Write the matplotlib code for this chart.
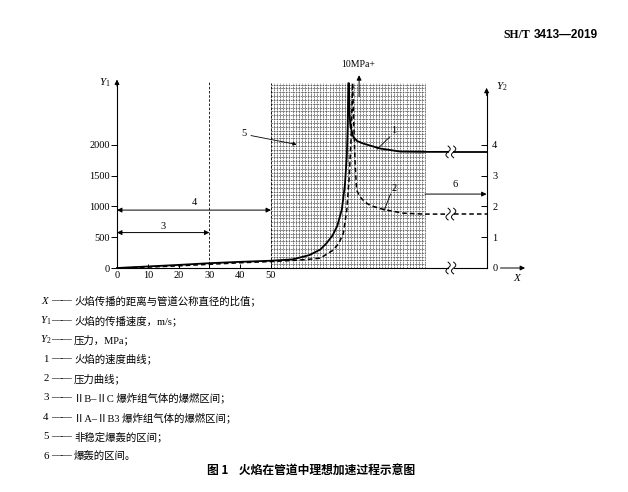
import numpy as np
import matplotlib
matplotlib.use('Agg')
import matplotlib.pyplot as plt

plt.rcParams['font.family'] = ['Liberation Serif', 'Noto Sans CJK SC']
plt.rcParams['mathtext.fontset'] = 'custom'
plt.rcParams['mathtext.rm'] = 'Liberation Serif'
plt.rcParams['mathtext.it'] = 'Liberation Serif:italic'

# 火焰速度曲线 (m/s)
vel_x = [0, 10, 20, 30, 40, 50, 57, 62.5, 66, 68, 70, 71.5, 73, 74, 74.6, 74.9, 75.1, 75.3,
         75.5, 75.8, 76.7, 78, 80, 85.4, 92, 100, 120]
vel_y = [0, 25, 50, 78, 100, 118, 140, 210, 300, 400, 530, 680, 950, 1350, 1800, 2300, 3000, 3000,
         2500, 2300, 2130, 2060, 2020, 1940, 1890, 1885, 1885]
# 压力曲线 (MPa)
pres_x = [0, 10, 20, 30, 40, 50, 58, 63, 66, 70.2, 72, 73.5, 74.6, 75.4, 76.0, 76.5, 76.9, 77.3,
          77.8, 78.9, 80.5, 82.1, 85, 87.6, 92.9, 100, 120]
pres_y = [0, 0.03, 0.07, 0.12, 0.17, 0.21, 0.25, 0.29, 0.32, 0.58, 0.8, 1.13, 1.88, 2.96, 4.2, 6.0,
          4.6, 3.4, 2.53, 2.31, 2.14, 2.04, 1.94, 1.88, 1.78, 1.75, 1.75]

x_ticks = [0, 10, 20, 30, 40, 50]
y1_ticks = [0, 500, 1000, 1500, 2000]
y2_ticks = [0, 1, 2, 3, 4]

zone_unstable = (50, 100)   # 5
zone_3 = (0, 30, 575)       # 3
zone_4 = (0, 50, 940)       # 4
zone_6 = (100, 120, 1200)   # 6
brk = (107.5, 109.3)

legend_sym = ['$X$', '$Y_1$', '$Y_2$', '1', '2', '3', '4', '5', '6']
legend_txt = ['火焰传播的距离与管道公称直径的比值；',
              '火焰的传播速度，m/s；',
              '压力，MPa；',
              '火焰的速度曲线；',
              '压力曲线；',
              'ⅡB–ⅡC 爆炸组气体的爆燃区间；',
              'ⅡA–ⅡB3 爆炸组气体的爆燃区间；',
              '非稳定爆轰的区间；',
              '爆轰的区间。']

W, H = 628, 492
def px(x, y):
    return x / W, 1 - y / H

fig = plt.figure(figsize=(W / 100, H / 100), dpi=100, facecolor='white')
ax = fig.add_axes([117 / W, 224 / H, 369.6 / W, 184.8 / H])
ax.set_xlim(0, 120)
ax.set_ylim(0, 3000)
for s in ['top', 'right', 'bottom']:
    ax.spines[s].set_visible(False)
ax.spines['left'].set_linewidth(0.8)
ax.set_xticks(x_ticks)
ax.set_yticks(y1_ticks)
ax.tick_params(axis='x', direction='in', length=3, width=0.7, labelsize=7.5, pad=2)
ax.tick_params(axis='y', direction='out', length=4, width=0.7, labelsize=7.5, pad=1)

ax2 = ax.twinx()
ax2.set_ylim(0, 6)
for s in ['top', 'left', 'bottom']:
    ax2.spines[s].set_visible(False)
ax2.spines['right'].set_bounds(0, 5.7)
ax2.spines['right'].set_linewidth(0.8)
ax2.set_yticks(y2_ticks)
ax2.tick_params(axis='y', direction='in', length=4, width=0.7, labelsize=7.5, pad=4)

# 非稳定爆轰区间的网格
gx = np.arange(zone_unstable[0], zone_unstable[1] + 0.1, 1.0)
gy = np.arange(0, 3001, 62)
ax.vlines(gx, 0, 3000, colors='0.3', linestyles=(0, (2.5, 1)), lw=0.5, zorder=1)
ax.hlines(gy, zone_unstable[0], zone_unstable[1], colors='0.3', linestyles=(0, (2.5, 1)), lw=0.5, zorder=1)
ax.vlines([zone_unstable[0]], 0, 3000, colors='k', linestyles=(0, (3, 2)), lw=0.6, zorder=2)
ax.vlines([zone_3[1]], 0, 3020, colors='k', linestyles=(0, (3, 2)), lw=0.6, clip_on=False)

def split(xs, ys):
    xs = np.array(xs, float); ys = np.array(ys, float)
    yl = np.interp(brk[0], xs, ys); yr = np.interp(brk[1], xs, ys)
    m1 = xs < brk[0]; m2 = xs > brk[1]
    return (np.append(xs[m1], brk[0]), np.append(ys[m1], yl)), (np.insert(xs[m2], 0, brk[1]), np.insert(ys[m2], 0, yr))

def squiggle(a, y, h):
    t = np.linspace(-1, 1, 40)
    for xc in brk:
        a.plot(xc + 0.7 * np.sin(np.pi * t), y + h * t, color='k', lw=0.7, clip_on=False, zorder=5)

for seg in split(vel_x, vel_y):
    ax.plot(*seg, color='k', lw=1.3, zorder=4, clip_on=False)
for seg in split(pres_x, pres_y):
    ax2.plot(*seg, color='k', lw=1.1, linestyle=(0, (3, 2)), zorder=4, clip_on=False)
for seg in split([0, 120], [0, 0]):
    ax.plot(*seg, color='k', lw=0.8, clip_on=False, zorder=4)
squiggle(ax, 0, 95)
squiggle(ax, vel_y[-1], 95)
squiggle(ax2, pres_y[-1], 0.19)

ap = dict(lw=0.7, color='k', mutation_scale=7, shrinkA=0, shrinkB=0)
# 轴箭头
ax.annotate('', xy=(0, 3060), xytext=(0, 2950), arrowprops=dict(arrowstyle='-|>', **ap), annotation_clip=False)
ax2.annotate('', xy=(120, 5.85), xytext=(120, 5.6), arrowprops=dict(arrowstyle='-|>', **ap), annotation_clip=False)
ax.annotate('', xy=(132.5, 0), xytext=(124.5, 0), arrowprops=dict(arrowstyle='-|>', **ap), annotation_clip=False)
ax.text(-2.2, 3010, '$Y_1$', fontsize=8, ha='right', va='center')
ax.text(123, 2940, '$Y_2$', fontsize=8, ha='left', va='center')
ax.text(130, -150, '$X$', fontsize=8, ha='center', va='center')

# 区间箭头
ax.annotate('', xy=(zone_3[1], zone_3[2]), xytext=(zone_3[0], zone_3[2]), arrowprops=dict(arrowstyle='<|-|>', **ap))
ax.text(14.8, 680, '3', fontsize=7.5, ha='center', va='center')
ax.annotate('', xy=(zone_4[1], zone_4[2]), xytext=(zone_4[0], zone_4[2]), arrowprops=dict(arrowstyle='<|-|>', **ap))
ax.text(25, 1065, '4', fontsize=7.5, ha='center', va='center')
ax.annotate('', xy=(zone_6[1], zone_6[2]), xytext=(zone_6[0], zone_6[2]), arrowprops=dict(arrowstyle='-|>', **ap))
ax.text(109.7, 1350, '6', fontsize=7.5, ha='center', va='center')

# 引出线
ax.text(41.2, 2190, '5', fontsize=7.5, ha='center', va='center')
ax.annotate('', xy=(58.3, 2005), xytext=(43.5, 2150),
            arrowprops=dict(arrowstyle='-|>', lw=0.6, color='k', mutation_scale=5, shrinkA=0, shrinkB=0))
ax.text(89.8, 2225, '1', fontsize=7.5, ha='center', va='center')
ax.plot([88.6, 84.5], [2130, 1930], color='k', lw=0.6)
ax.text(89.9, 1295, '2', fontsize=7.5, ha='center', va='center')
ax.plot([88.8, 86.7], [1200, 930], color='k', lw=0.6)
ax.annotate('', xy=(78.6, 3130), xytext=(78.6, 2780),
            arrowprops=dict(arrowstyle='-|>', **ap), annotation_clip=False)
ax.text(78.4, 3300, '10MPa+', fontsize=7, ha='center', va='center')

# 页眉
fig.text(*px(530, 35), 'SH/T', fontsize=8.5, fontweight='bold', ha='right', va='center',
         family='Liberation Serif')
fig.text(*px(534, 35), '3413—2019', fontsize=8.5, fontweight='bold', ha='left', va='center',
         family='Liberation Sans')

# 说明
y0 = 301
for i, (s, t) in enumerate(zip(legend_sym, legend_txt)):
    yy = y0 + i * 19.4
    fig.text(*px(46, yy), s, fontsize=7.8, ha='center', va='center')
    fig.text(*px(51, yy), '——', fontsize=7.5, ha='left', va='center', family='Liberation Serif')
    fig.text(*px(74, yy), t, fontsize=7.5, ha='left', va='center',
             family=['Liberation Serif', 'Noto Sans CJK SC'])

fig.text(*px(311, 471), '图 1    火焰在管道中理想加速过程示意图', fontsize=8.5, fontweight='bold',
         ha='center', va='center', family=['Noto Sans CJK SC', 'DejaVu Sans'])

fig.savefig('out.png', dpi=100, facecolor='white')
